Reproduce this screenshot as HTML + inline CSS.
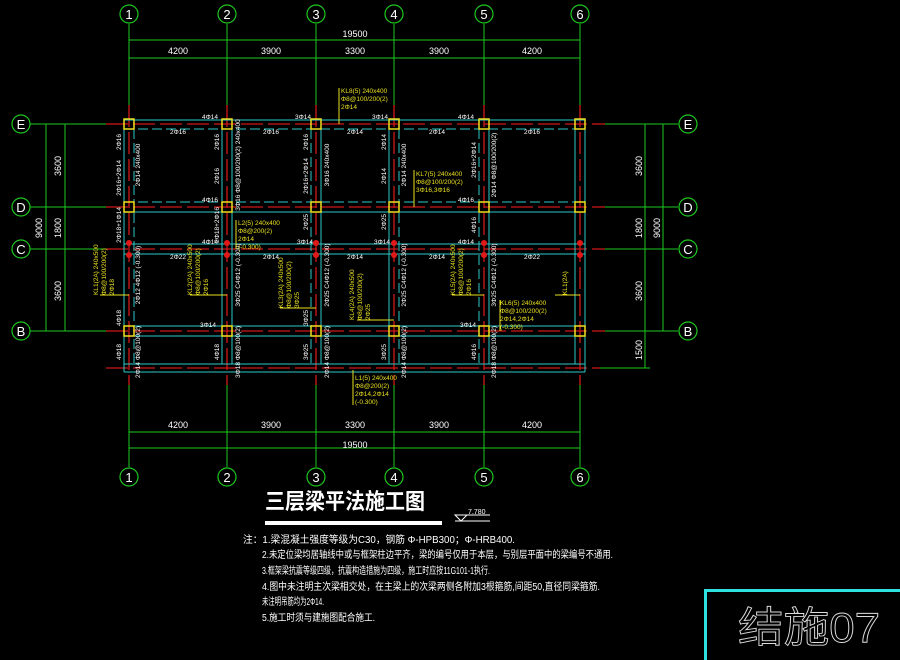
<!DOCTYPE html>
<html><head><meta charset="utf-8"><style>
html,body{margin:0;padding:0;background:#000;}
svg{display:block}
text{font-family:"Liberation Sans","Noto Sans CJK SC",sans-serif;}
</style></head><body>
<svg width="900" height="660" viewBox="0 0 900 660" xmlns="http://www.w3.org/2000/svg">
<rect width="900" height="660" fill="#000"/>
<g stroke="#1ec81e" stroke-width="1" fill="none">
<line x1="129" y1="24" x2="129" y2="110"/><line x1="227" y1="24" x2="227" y2="110"/><line x1="316" y1="24" x2="316" y2="110"/><line x1="394" y1="24" x2="394" y2="110"/><line x1="484" y1="24" x2="484" y2="110"/><line x1="580" y1="24" x2="580" y2="110"/>
<line x1="129" y1="380" x2="129" y2="467"/><line x1="227" y1="380" x2="227" y2="467"/><line x1="316" y1="380" x2="316" y2="467"/><line x1="394" y1="380" x2="394" y2="467"/><line x1="484" y1="380" x2="484" y2="467"/><line x1="580" y1="380" x2="580" y2="467"/>
<line x1="129" y1="40" x2="580" y2="40"/><line x1="129" y1="58" x2="580" y2="58"/>
<line x1="129" y1="432" x2="580" y2="432"/><line x1="129" y1="448" x2="580" y2="448"/>
<line x1="30" y1="124" x2="106" y2="124"/><line x1="30" y1="207" x2="106" y2="207"/><line x1="30" y1="249" x2="106" y2="249"/><line x1="30" y1="331" x2="106" y2="331"/>
<line x1="605" y1="124" x2="678" y2="124"/><line x1="605" y1="207" x2="678" y2="207"/><line x1="605" y1="249" x2="678" y2="249"/><line x1="605" y1="331" x2="678" y2="331"/><line x1="600" y1="368" x2="650" y2="368"/>
<line x1="46" y1="124" x2="46" y2="331"/><line x1="65" y1="124" x2="65" y2="331"/>
<line x1="645" y1="124" x2="645" y2="368"/><line x1="663" y1="124" x2="663" y2="331"/>
</g>
<g stroke="#1ec81e" stroke-width="1.2" fill="#000">
<circle cx="129" cy="14" r="9"/><circle cx="227" cy="14" r="9"/><circle cx="316" cy="14" r="9"/><circle cx="394" cy="14" r="9"/><circle cx="484" cy="14" r="9"/><circle cx="580" cy="14" r="9"/>
<circle cx="129" cy="477" r="9"/><circle cx="227" cy="477" r="9"/><circle cx="316" cy="477" r="9"/><circle cx="394" cy="477" r="9"/><circle cx="484" cy="477" r="9"/><circle cx="580" cy="477" r="9"/>
<circle cx="21" cy="124" r="9"/><circle cx="21" cy="207" r="9"/><circle cx="21" cy="249" r="9"/><circle cx="21" cy="331" r="9"/>
<circle cx="688" cy="124" r="9"/><circle cx="688" cy="207" r="9"/><circle cx="688" cy="249" r="9"/><circle cx="688" cy="331" r="9"/>
</g>
<g fill="#fff" font-size="13" text-anchor="middle" font-family="Liberation Serif,serif">
<text x="129" y="19">1</text><text x="227" y="19">2</text><text x="316" y="19">3</text><text x="394" y="19">4</text><text x="484" y="19">5</text><text x="580" y="19">6</text>
<text x="129" y="482">1</text><text x="227" y="482">2</text><text x="316" y="482">3</text><text x="394" y="482">4</text><text x="484" y="482">5</text><text x="580" y="482">6</text>
<text x="21" y="129">E</text><text x="21" y="212">D</text><text x="21" y="254">C</text><text x="21" y="336">B</text>
<text x="688" y="129">E</text><text x="688" y="212">D</text><text x="688" y="254">C</text><text x="688" y="336">B</text>
</g>
<g fill="#fff" font-size="9" text-anchor="middle">
<text x="355" y="37">19500</text>
<text x="178" y="54">4200</text><text x="271" y="54">3900</text><text x="355" y="54">3300</text><text x="439" y="54">3900</text><text x="532" y="54">4200</text>
<text x="178" y="428">4200</text><text x="271" y="428">3900</text><text x="355" y="428">3300</text><text x="439" y="428">3900</text><text x="532" y="428">4200</text>
<text x="355" y="448">19500</text>
<text transform="translate(61,166) rotate(-90)">3600</text><text transform="translate(61,228) rotate(-90)">1800</text><text transform="translate(61,291) rotate(-90)">3600</text><text transform="translate(42,228) rotate(-90)">9000</text>
<text transform="translate(642,166) rotate(-90)">3600</text><text transform="translate(642,228) rotate(-90)">1800</text><text transform="translate(642,291) rotate(-90)">3600</text><text transform="translate(660,228) rotate(-90)">9000</text><text transform="translate(642,350) rotate(-90)">1500</text>
</g>
<g stroke="#d01818" stroke-width="1.3" stroke-dasharray="22,5">
<line x1="106" y1="124" x2="605" y2="124"/><line x1="106" y1="207" x2="605" y2="207"/><line x1="106" y1="249" x2="605" y2="249"/><line x1="106" y1="331" x2="605" y2="331"/><line x1="106" y1="368" x2="600" y2="368"/>
<line x1="129" y1="105" x2="129" y2="385"/><line x1="227" y1="105" x2="227" y2="385"/><line x1="316" y1="105" x2="316" y2="385"/><line x1="394" y1="105" x2="394" y2="385"/><line x1="484" y1="105" x2="484" y2="385"/><line x1="580" y1="105" x2="580" y2="385"/>
</g>
<g stroke="#2ec8c8" stroke-width="1" fill="none">
<line x1="124" y1="120" x2="585" y2="120"/><line x1="124" y1="129" x2="585" y2="129" stroke-dasharray="10,4"/>
<line x1="124" y1="202" x2="585" y2="202" stroke-dasharray="10,4"/><line x1="124" y1="212" x2="585" y2="212"/>
<line x1="124" y1="244" x2="585" y2="244"/><line x1="124" y1="254" x2="585" y2="254"/>
<line x1="124" y1="326" x2="585" y2="326"/><line x1="124" y1="336" x2="585" y2="336"/>
<line x1="124" y1="364" x2="585" y2="364"/><line x1="124" y1="372" x2="585" y2="372"/>
<line x1="124" y1="120" x2="124" y2="372"/><line x1="134" y1="129" x2="134" y2="364" stroke-dasharray="10,4"/>
<line x1="222" y1="129" x2="222" y2="364"/><line x1="232" y1="129" x2="232" y2="364"/>
<line x1="311" y1="129" x2="311" y2="364" stroke-dasharray="10,4"/><line x1="321" y1="129" x2="321" y2="364"/>
<line x1="389" y1="129" x2="389" y2="364"/><line x1="399" y1="129" x2="399" y2="364" stroke-dasharray="10,4"/>
<line x1="479" y1="129" x2="479" y2="364" stroke-dasharray="10,4"/><line x1="489" y1="129" x2="489" y2="364"/>
<line x1="575" y1="129" x2="575" y2="364"/><line x1="585" y1="120" x2="585" y2="372"/>
</g>
<g stroke="#f0e020" stroke-width="1.5" fill="none">
<rect x="124" y="119" width="10" height="10"/><rect x="222" y="119" width="10" height="10"/><rect x="311" y="119" width="10" height="10"/><rect x="389" y="119" width="10" height="10"/><rect x="479" y="119" width="10" height="10"/><rect x="575" y="119" width="10" height="10"/>
<rect x="124" y="202" width="10" height="10"/><rect x="222" y="202" width="10" height="10"/><rect x="311" y="202" width="10" height="10"/><rect x="389" y="202" width="10" height="10"/><rect x="479" y="202" width="10" height="10"/><rect x="575" y="202" width="10" height="10"/>
<rect x="124" y="326" width="10" height="10"/><rect x="222" y="326" width="10" height="10"/><rect x="311" y="326" width="10" height="10"/><rect x="389" y="326" width="10" height="10"/><rect x="479" y="326" width="10" height="10"/><rect x="575" y="326" width="10" height="10"/>
</g>
<g fill="#e01818">
<circle cx="129" cy="243" r="3"/><circle cx="129" cy="255" r="3"/><circle cx="227" cy="243" r="3"/><circle cx="227" cy="255" r="3"/><circle cx="316" cy="243" r="3"/><circle cx="316" cy="255" r="3"/><circle cx="394" cy="243" r="3"/><circle cx="394" cy="255" r="3"/><circle cx="484" cy="243" r="3"/><circle cx="484" cy="255" r="3"/><circle cx="580" cy="243" r="3"/><circle cx="580" cy="255" r="3"/>
</g>
<g fill="#fff" font-size="6.5" text-anchor="middle">
<text x="210" y="119">4Φ14</text><text x="303" y="119">3Φ14</text><text x="380" y="119">3Φ14</text><text x="466" y="119">4Φ14</text>
<text x="178" y="134">2Φ16</text><text x="271" y="134">2Φ16</text><text x="355" y="134">2Φ14</text><text x="437" y="134">2Φ14</text><text x="532" y="134">2Φ16</text>
<text x="210" y="202">4Φ16</text><text x="466" y="202">4Φ16</text>
<text x="210" y="244">4Φ14</text><text x="305" y="244">3Φ14</text><text x="382" y="244">3Φ14</text><text x="466" y="244">4Φ14</text>
<text x="178" y="259">2Φ22</text><text x="271" y="259">2Φ14</text><text x="355" y="259">2Φ14</text><text x="437" y="259">2Φ14</text><text x="532" y="259">2Φ22</text>
<text x="208" y="327">3Φ14</text><text x="468" y="327">3Φ14</text>
<text transform="translate(121,142) rotate(-90)">2Φ16</text><text transform="translate(121,178) rotate(-90)">2Φ16+2Φ14</text><text transform="translate(121,225) rotate(-90)">2Φ18+1Φ14</text><text transform="translate(121,318) rotate(-90)">4Φ18</text><text transform="translate(121,352) rotate(-90)">4Φ18</text>
<text transform="translate(219,142) rotate(-90)">2Φ16</text><text transform="translate(219,176) rotate(-90)">2Φ16</text><text transform="translate(219,225) rotate(-90)">2Φ18+2Φ16</text><text transform="translate(219,352) rotate(-90)">4Φ18</text>
<text transform="translate(308,142) rotate(-90)">2Φ16</text><text transform="translate(308,176) rotate(-90)">2Φ16+2Φ14</text><text transform="translate(308,222) rotate(-90)">2Φ25</text><text transform="translate(308,318) rotate(-90)">3Φ25</text><text transform="translate(308,352) rotate(-90)">3Φ25</text>
<text transform="translate(386,142) rotate(-90)">2Φ14</text><text transform="translate(386,176) rotate(-90)">2Φ14</text><text transform="translate(386,222) rotate(-90)">2Φ25</text><text transform="translate(386,352) rotate(-90)">3Φ25</text>
<text transform="translate(476,160) rotate(-90)">2Φ16+2Φ14</text><text transform="translate(476,225) rotate(-90)">4Φ16</text><text transform="translate(476,352) rotate(-90)">4Φ16</text>
<text transform="translate(140,165) rotate(-90)">2Φ14 240x400</text><text transform="translate(240,165) rotate(-90)">3Φ16 Φ8@100/200(2) 240x400</text><text transform="translate(329,165) rotate(-90)">3Φ16 240x400</text><text transform="translate(406,165) rotate(-90)">2Φ14 240x400</text><text transform="translate(496,165) rotate(-90)">2Φ14 Φ8@100/200(2)</text>
<text transform="translate(140,275) rotate(-90)">2Φ12 4Φ12 (-0.300)</text><text transform="translate(240,275) rotate(-90)">3Φ25 C4Φ12 (-0.300)</text><text transform="translate(329,275) rotate(-90)">2Φ25 C4Φ12 (-0.300)</text><text transform="translate(406,275) rotate(-90)">2Φ25 C4Φ12 (-0.300)</text><text transform="translate(496,275) rotate(-90)">3Φ25 C4Φ12 (-0.300)</text>
<text transform="translate(140,352) rotate(-90)">2Φ14 Φ8@100(2)</text><text transform="translate(240,352) rotate(-90)">3Φ18 Φ8@100(2)</text><text transform="translate(329,352) rotate(-90)">2Φ14 Φ8@100(2)</text><text transform="translate(406,352) rotate(-90)">2Φ14 Φ8@100(2)</text><text transform="translate(496,352) rotate(-90)">2Φ18 Φ8@100(2)</text>
</g>
<g stroke="#e8e020" stroke-width="1"><line x1="339" y1="88" x2="339" y2="124"/><line x1="414" y1="170" x2="414" y2="207"/><line x1="236" y1="220" x2="236" y2="249"/><line x1="353" y1="370" x2="353" y2="405"/><line x1="500" y1="300" x2="500" y2="331"/><line x1="100" y1="295" x2="129" y2="295"/><line x1="190" y1="295" x2="227" y2="295"/><line x1="280" y1="308" x2="316" y2="308"/><line x1="357" y1="320" x2="394" y2="320"/><line x1="452" y1="295" x2="484" y2="295"/><line x1="555" y1="295" x2="580" y2="295"/></g>
<g fill="#e8e020" font-size="6.5">
<text x="341" y="93">KL8(5) 240x400</text><text x="341" y="101">Φ8@100/200(2)</text><text x="341" y="109">2Φ14</text>
<text x="416" y="176">KL7(5) 240x400</text><text x="416" y="184">Φ8@100/200(2)</text><text x="416" y="192">3Φ16,3Φ16</text>
<text x="238" y="225">L2(5) 240x400</text><text x="238" y="233">Φ8@200(2)</text><text x="238" y="241">2Φ14</text><text x="238" y="249">(-0.300)</text>
<text x="355" y="380">L1(5) 240x400</text><text x="355" y="388">Φ8@200(2)</text><text x="355" y="396">2Φ14,2Φ14</text><text x="355" y="404">(-0.300)</text>
<text x="500" y="305">KL6(5) 240x400</text><text x="500" y="313">Φ8@100/200(2)</text><text x="500" y="321">2Φ14,2Φ14</text><text x="500" y="329">(-0.300)</text>
<text transform="translate(98,295) rotate(-90)">KL1(2A) 240x500</text><text transform="translate(106,295) rotate(-90)">Φ8@100/200(2)</text><text transform="translate(114,295) rotate(-90)">2Φ18</text>
<text transform="translate(192,295) rotate(-90)">KL2(2A) 240x500</text><text transform="translate(200,295) rotate(-90)">Φ8@100/200(2)</text><text transform="translate(208,295) rotate(-90)">2Φ16</text>
<text transform="translate(283,308) rotate(-90)">KL3(2A) 240x500</text><text transform="translate(291,308) rotate(-90)">Φ8@100/200(2)</text><text transform="translate(299,308) rotate(-90)">3Φ25</text>
<text transform="translate(354,320) rotate(-90)">KL4(2A) 240x500</text><text transform="translate(362,320) rotate(-90)">Φ8@100/200(2)</text><text transform="translate(370,320) rotate(-90)">2Φ25</text>
<text transform="translate(455,295) rotate(-90)">KL5(2A) 240x500</text><text transform="translate(463,295) rotate(-90)">Φ8@100/200(2)</text><text transform="translate(471,295) rotate(-90)">2Φ16</text>
<text transform="translate(567,295) rotate(-90)">KL1(2A)</text>
</g>
<text x="265" y="509" fill="#fff" font-size="22" font-weight="bold" font-family="Noto Sans CJK SC,sans-serif" textLength="160" lengthAdjust="spacingAndGlyphs">三层梁平法施工图</text>
<rect x="265" y="521" width="177" height="4" fill="#fff"/>
<g stroke="#fff" stroke-width="1" fill="none"><line x1="455" y1="521" x2="490" y2="521"/><path d="M455 515 L461 521 L467 515 Z"/><line x1="461" y1="515" x2="490" y2="515"/></g>
<text x="468" y="514" fill="#fff" font-size="7">7.780</text>
<g fill="#fff" font-size="10" font-family="Noto Sans CJK SC,sans-serif" lengthAdjust="spacingAndGlyphs">
<text x="243" y="543" textLength="272" lengthAdjust="spacingAndGlyphs">注：1.梁混凝土强度等级为C30，钢筋 Φ-HPB300；Φ-HRB400.</text>
<text x="262" y="558" textLength="351" lengthAdjust="spacingAndGlyphs">2.未定位梁均居轴线中或与框架柱边平齐，梁的编号仅用于本层，与别层平面中的梁编号不通用.</text>
<text x="262" y="574" textLength="228" lengthAdjust="spacingAndGlyphs">3.框架梁抗震等级四级，抗震构造措施为四级，施工时应按11G101-1执行.</text>
<text x="262" y="590" textLength="338" lengthAdjust="spacingAndGlyphs">4.图中未注明主次梁相交处，在主梁上的次梁两侧各附加3根箍筋,间距50,直径同梁箍筋.</text>
<text x="262" y="605" textLength="62" lengthAdjust="spacingAndGlyphs">未注明吊筋均为2Φ14.</text>
<text x="262" y="621" textLength="113" lengthAdjust="spacingAndGlyphs">5.施工时须与建施图配合施工.</text>
</g>
<rect x="705.5" y="590.5" width="200" height="80" fill="none" stroke="#2ee0e0" stroke-width="3"/>
<text x="738" y="642" fill="none" stroke="#ddd" stroke-width="0.9" font-size="42" font-family="Noto Sans CJK SC,sans-serif" textLength="142" lengthAdjust="spacingAndGlyphs">结施07</text>
</svg>
</body></html>
